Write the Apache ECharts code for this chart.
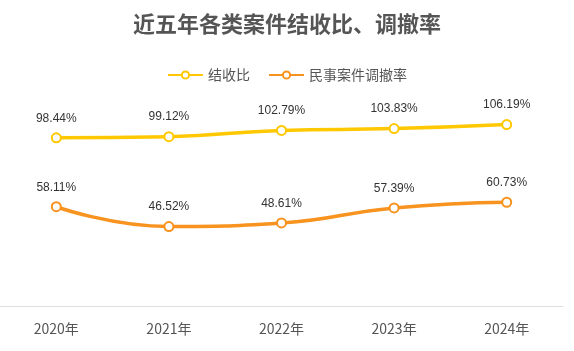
<!DOCTYPE html>
<html><head><meta charset="utf-8">
<script src="https://cdn.jsdelivr.net/npm/echarts@6/dist/echarts.min.js"></script>
<style>html,body{margin:0;padding:0;background:#fff}#c{width:574px;height:351px}</style>
</head><body><div id="c"></div>
<script>
const categories = ['2020年','2021年','2022年','2023年','2024年'];
const ratioValues = [98.44, 99.12, 102.79, 103.83, 106.19];
const mediationValues = [58.11, 46.52, 48.61, 57.39, 60.73];
const seriesNames = ['结收比','民事案件调撤率'];

const chart = echarts.init(document.getElementById('c'));
const label = {show:true, position:'top', distance:8, color:'#333', fontSize:12, formatter: p => p.value.toFixed(2) + '%'};
chart.setOption({
  animation:false,
  title:{text:'近五年各类案件结收比、调撤率', left:'center', top:8, textStyle:{fontSize:22, fontWeight:'bold', color:'#555', fontFamily:'Noto Sans CJK SC'}},
  legend:{top:63, left:'center', itemWidth:35, itemHeight:9, itemGap:18, textStyle:{fontSize:14, color:'#555', fontFamily:'Noto Sans CJK SC'}, data:seriesNames},
  grid:{left:0, right:11, top:101, bottom:45, containLabel:false},
  xAxis:{type:'category', data:categories, boundaryGap:true,
    axisLine:{lineStyle:{color:'#ddd'}}, axisTick:{show:false},
    axisLabel:{color:'#555', fontSize:14, margin:16, fontFamily:'Noto Sans CJK SC'}},
  yAxis:{type:'value', min:0, max:120, show:false, splitLine:{show:false}},
  series:[
    {name:seriesNames[0], type:'line', smooth:true, data:ratioValues, symbol:'emptyCircle', symbolSize:9,
      itemStyle:{color:'#FFC800', borderWidth:1.5}, lineStyle:{width:3.5, color:'#FFC800'}, label},
    {name:seriesNames[1], type:'line', smooth:true, data:mediationValues, symbol:'emptyCircle', symbolSize:9,
      itemStyle:{color:'#F7931E', borderWidth:1.5}, lineStyle:{width:3.5, color:'#F7931E'}, label}
  ]
});
</script></body></html>
